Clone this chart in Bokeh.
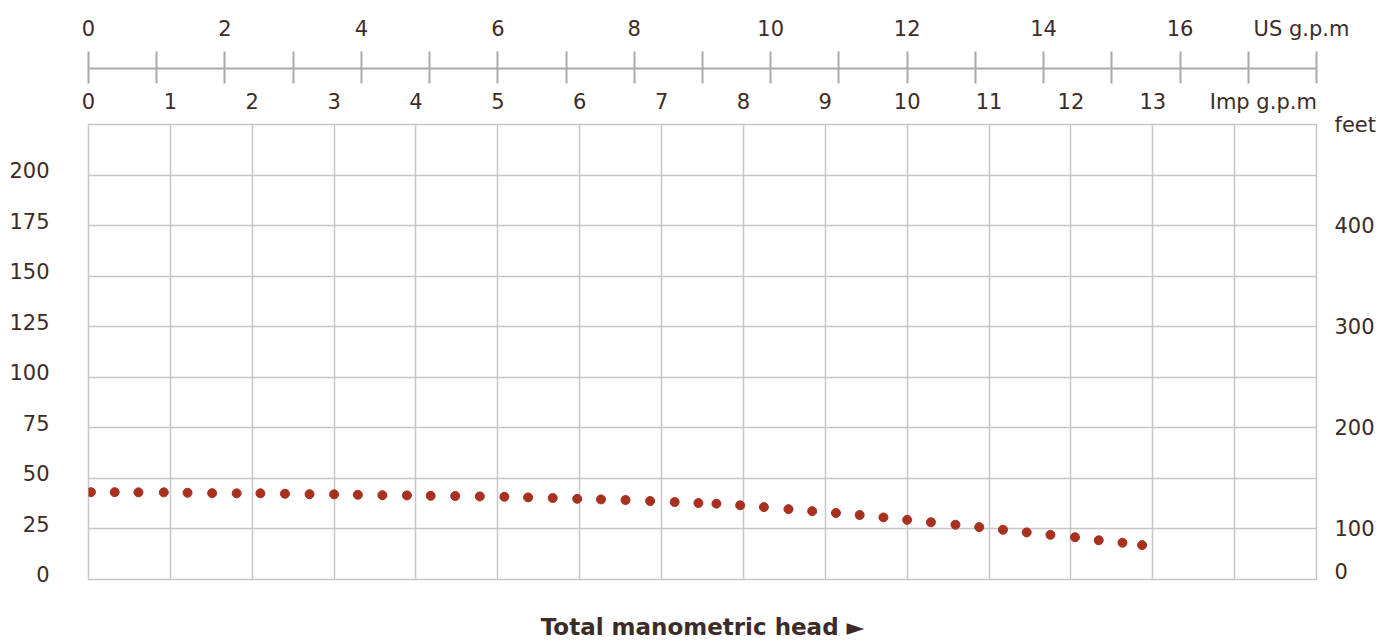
from bokeh.plotting import figure
from bokeh.models import Range1d, LinearAxis, FixedTicker, Grid
from bokeh.embed import file_html
from bokeh.resources import INLINE

# ---- data ----
imp_gpm = [0.03, 0.32, 0.61, 0.92, 1.21, 1.51, 1.81, 2.10, 2.40, 2.70, 3.00,
           3.29, 3.59, 3.89, 4.18, 4.48, 4.78, 5.08, 5.37, 5.67, 5.97, 6.26,
           6.56, 6.86, 7.16, 7.45, 7.67, 7.96, 8.25, 8.55, 8.84, 9.13, 9.42,
           9.71, 10.00, 10.29, 10.59, 10.88, 11.17, 11.46, 11.75, 12.05, 12.34,
           12.63, 12.87]
head_m = [43.2, 43.2, 43.1, 43.1, 42.9, 42.7, 42.6, 42.6, 42.4, 42.2, 42.1,
          41.9, 41.7, 41.6, 41.4, 41.3, 41.1, 40.9, 40.6, 40.3, 39.9, 39.6,
          39.3, 38.8, 38.3, 37.8, 37.5, 36.7, 35.8, 34.8, 33.8, 32.9, 31.9,
          30.7, 29.5, 28.3, 27.1, 25.9, 24.6, 23.3, 22.1, 20.9, 19.4, 18.2, 17.0]

left_ticks = [0, 25, 50, 75, 100, 125, 150, 175, 200]
feet_ticks = [57, 100, 200, 300, 400, 500]
feet_labels = {57: "0", 100: "100", 200: "200", 300: "300", 400: "400", 500: "feet"}
imp_ticks = list(range(0, 14)) + [14.35]
imp_labels = {14.35: "Imp g.p.m"}
us_ticks = list(range(0, 19))
us_label_ticks = [0, 2, 4, 6, 8, 10, 12, 14, 16, 17.78]
us_labels = {17.78: "US g.p.m"}
grid_x = list(range(1, 15))
title_text = "Total manometric head \u25ba"

TEXT = "#3d2b28"
GRID = "#c6c6c6"
AXIS = "#aaaaaa"
DOT = "#a8301f"
FONT = "DejaVu Sans"
NUM_SIZE = "21px"

p = figure(width=1395, height=642, x_range=Range1d(0, 15), y_range=Range1d(0, 225),
           output_backend="svg", toolbar_location=None,
           x_axis_location=None, y_axis_location=None,
           min_border_left=88, min_border_right=79, min_border_top=124,
           min_border_bottom=62)
p.extra_x_ranges = {"us": Range1d(0, 18)}
p.extra_y_ranges = {"feet": Range1d(50, 500)}
for g in p.grid:
    g.visible = False
p.outline_line_color = GRID
p.outline_line_width = 1.5
p.background_fill_color = "white"
p.border_fill_color = "white"

p.add_layout(Grid(dimension=0, ticker=FixedTicker(ticks=grid_x),
                  grid_line_color=GRID, grid_line_width=1.5))
p.add_layout(Grid(dimension=1, ticker=FixedTicker(ticks=left_ticks),
                  grid_line_color=GRID, grid_line_width=1.5))

p.scatter(imp_gpm, head_m, size=9, color=DOT)


def label_axis(**kw):
    ax = LinearAxis(axis_line_color=None, major_tick_line_color=None,
                    major_tick_out=0, major_tick_in=0, minor_tick_line_color=None,
                    minor_tick_out=0, minor_tick_in=0,
                    major_label_text_font=FONT, major_label_text_font_size=NUM_SIZE,
                    major_label_text_color=TEXT, **kw)
    return ax


# left axis (labels sit slightly above their grid lines, as in the reference)
left_pos = [v + 2.5 for v in left_ticks]
left = label_axis(ticker=FixedTicker(ticks=left_pos),
                  major_label_overrides={v + 2.5: str(v) for v in left_ticks},
                  major_label_standoff=39)
p.add_layout(left, "left")

right = label_axis(y_range_name="feet", ticker=FixedTicker(ticks=feet_ticks),
                   major_label_overrides=feet_labels, major_label_standoff=18)
p.add_layout(right, "right")

# top: Imp labels (closest), tick line (US scale), US labels (outermost)
imp_axis = label_axis(ticker=FixedTicker(ticks=imp_ticks),
                      major_label_overrides=imp_labels, major_label_standoff=11,
                      axis_label=" ", axis_label_standoff=1,
                      axis_label_text_font_size="12px")
p.add_layout(imp_axis, "above")

line_axis = LinearAxis(x_range_name="us", ticker=FixedTicker(ticks=us_ticks),
                       axis_line_color=AXIS, axis_line_width=2,
                       major_tick_line_color=AXIS, major_tick_line_width=2,
                       major_tick_out=17, major_tick_in=15,
                       minor_tick_line_color=None,
                       major_label_overrides={t: "" for t in us_ticks},
                       major_label_text_font_size="0px", major_label_standoff=0)
p.add_layout(line_axis, "above")

us_axis = label_axis(x_range_name="us", ticker=FixedTicker(ticks=us_label_ticks),
                     major_label_overrides=us_labels, major_label_standoff=11)
p.add_layout(us_axis, "above")

# bottom: axis title only (centred on its bounds)
bottom = LinearAxis(ticker=FixedTicker(ticks=[]), bounds=(0, 14.8),
                    axis_line_color=None, major_tick_line_color=None,
                    major_tick_out=0, major_tick_in=0, minor_tick_line_color=None,
                    minor_tick_out=0, minor_tick_in=0, major_label_standoff=0,
                    axis_label=title_text, axis_label_standoff=34,
                    axis_label_text_font="DejaVu Sans",
                    axis_label_text_font_size="23px",
                    axis_label_text_font_style="bold",
                    axis_label_text_color=TEXT)
p.add_layout(bottom, "below")

open("out.html", "w").write(file_html(p, INLINE))
